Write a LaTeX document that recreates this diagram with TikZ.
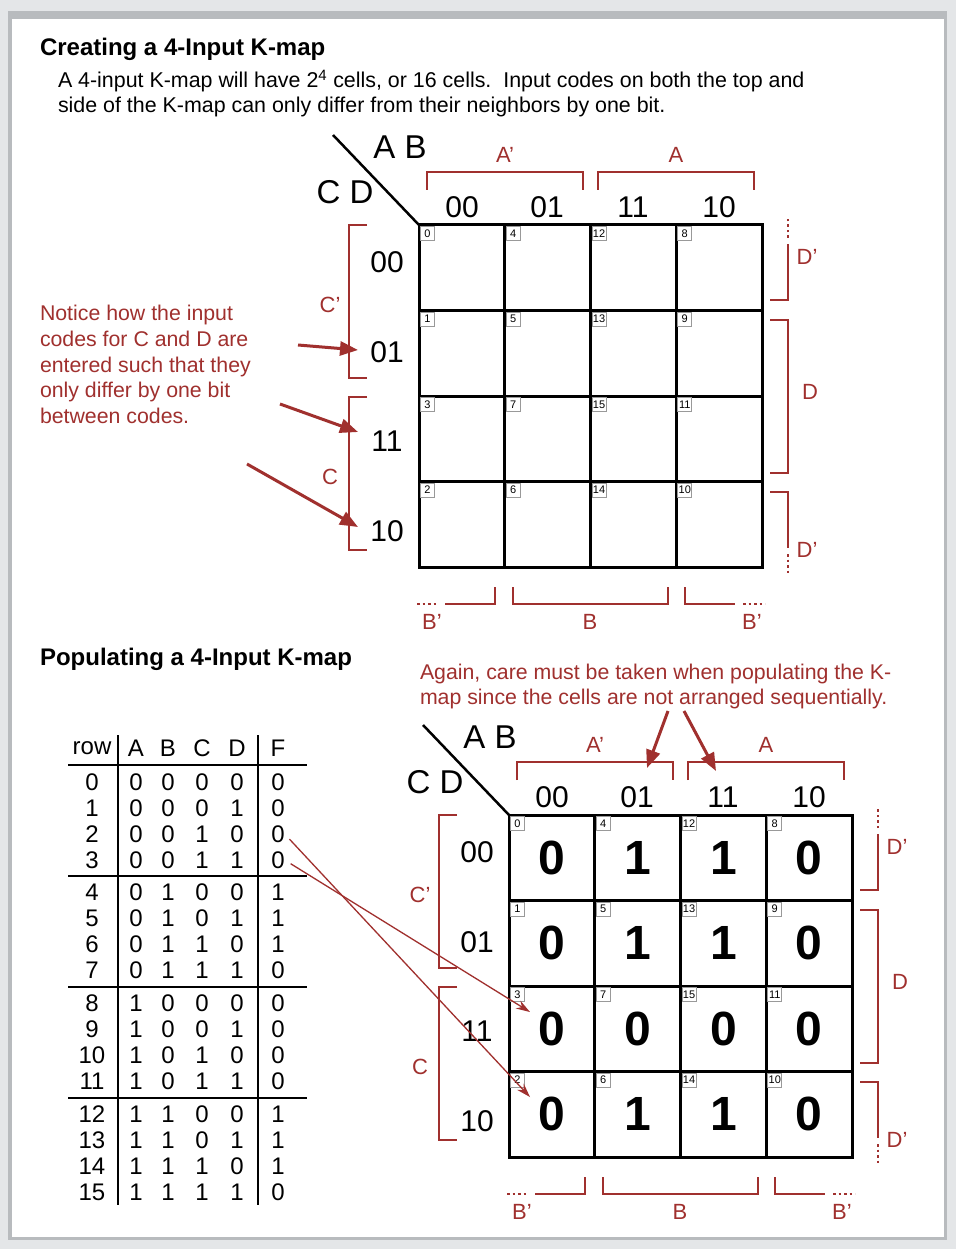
\documentclass[tikz,border=0pt]{standalone}
\usepackage{fontspec}
\setmainfont{Liberation Sans}
\usetikzlibrary{arrows.meta}
\definecolor{kred}{RGB}{160,48,46}
\definecolor{framegrey}{RGB}{228,230,232}
\definecolor{frameline}{RGB}{184,187,190}
\newcommand\fs[1]{\fontsize{#1}{#1}\selectfont}
\newcommand\KMap[1]{%
  \draw[diagline] (333,135) -- (419,225);
  \node[varlbl] (#1AB) at (400,147) {A B};
  \node[varlbl] (#1CD) at (345,192) {C D};
  \foreach \t/\x in {00/462,01/547,11/633,10/719}{\node[code] (#1col\t) at (\x,207) {\t};}
  \foreach \t/\y in {00/262,01/352,11/441,10/531}{\node[code] (#1row\t) at (387,\y) {\t};}
  \foreach \c/\cv in {0/0,1/1,2/3,3/2}{%
    \foreach \r/\rv in {0/0,1/1,2/3,3/2}{%
      \pgfmathtruncatemacro\n{4*\cv+\rv}%
      \pgfmathsetmacro\cx{419+85.75*(\c+0.5)}%
      \pgfmathsetmacro\cy{225+85.5*(\r+0.5)}%
      \node[gridcell] (#1k\n) at (\cx,\cy) {};
      \node[idxbox, xshift=1.5pt, yshift=-1.5pt] (#1i\n) at (#1k\n.north west) {\n};
    }}
  % top brackets
  \draw[bracket] (427,190) -- (427,172) -- (583,172) -- (583,190);
  \draw[bracket] (598,190) -- (598,172) -- (754,172) -- (754,190);
  \node[brlbl] (#1Ap) at (505,155) {A’};
  \node[brlbl] (#1A) at (676,155) {A};
  % right brackets
  \draw[bracket] (770,300) -- (788,300) -- (788,244);
  \draw[dotbr] (788,238) -- (788,219);
  \node[brlbl] (#1Dpa) at (807,257) {D’};
  \draw[bracket] (770,320) -- (788,320) -- (788,473) -- (770,473);
  \node[brlbl] (#1D) at (810,392) {D};
  \draw[bracket] (770,492) -- (788,492) -- (788,548);
  \draw[dotbr] (788,554) -- (788,573);
  \node[brlbl] (#1Dpb) at (807,550) {D’};
  % bottom brackets
  \draw[dotbr] (417,604) -- (438,604);
  \draw[bracket] (445,604) -- (495,604) -- (495,587);
  \node[brlbl] (#1Bpa) at (432,622) {B’};
  \draw[bracket] (513,587) -- (513,604) -- (668,604) -- (668,587);
  \node[brlbl] (#1B) at (590,622) {B};
  \draw[bracket] (685,587) -- (685,604) -- (735,604);
  \draw[dotbr] (743,604) -- (765,604);
  \node[brlbl] (#1Bpb) at (752,622) {B’};
  % left brackets
  \draw[bracket] (367,225) -- (349,225) -- (349,378) -- (367,378);
  \node[brlbl] (#1Cp) at (330,305) {C’};
  \draw[bracket] (367,397) -- (349,397) -- (349,550) -- (367,550);
  \node[brlbl] (#1C) at (330,477) {C};
}
\begin{document}
\begin{tikzpicture}[x=1pt,y=-1pt,
  every node/.style={inner sep=0pt, outer sep=0pt},
  gridcell/.style={draw=black, line width=3pt, minimum width=85.75pt, minimum height=85.5pt},
  idxbox/.style={draw=black!40, line width=0.7pt, minimum width=14pt, minimum height=14pt, font=\fs{11}, anchor=north west},
  code/.style={font=\fs{30}},
  varlbl/.style={font=\fs{33}},
  brlbl/.style={font=\fs{22}, text=kred},
  bracket/.style={draw=kred, line width=2.8pt},
  dotbr/.style={draw=kred, line width=2.8pt, dash pattern=on 2.5pt off 3pt},
  diagline/.style={draw=black, line width=2.5pt},
  bigval/.style={font=\bfseries\fs{48}},
  tt/.style={font=\fs{24}},
  ttline/.style={draw=black, line width=2.5pt},
  note/.style={font=\fs{21.3}, text=kred, anchor=base west},
  notearrow/.style={draw=kred, line width=3pt, -{Triangle[length=18pt,width=14pt]}},
  thinarrow/.style={draw=kred, line width=1.3pt, -{Stealth[length=14pt,width=9pt]}},
  titletext/.style={font=\bfseries\fs{24}, anchor=base west},
  desc/.style={font=\fs{21.4}, anchor=base west},
]
\useasboundingbox (0,0) rectangle (956,1249);
% frame
\fill[framegrey] (0,0) rectangle (956,1249);
\fill[frameline] (8,11) rectangle (947,1240);
\fill[white] (12,19) rectangle (944,1237);

% header texts
\node[titletext] (t1) at (40,55.6) {Creating a 4-Input K-map};
\node[desc] (d1) at (58,87.6) {A 4-input K-map will have 2\textsuperscript{4} cells, or 16 cells.\ \ Input codes on both the top and};
\node[desc] (d2) at (58,112.6) {side of the K-map can only differ from their neighbors by one bit.};

% first K-map
\KMap{A}

% notice text
\foreach \l/\txt [count=\k from 0] in {1/Notice how the input,2/codes for C and D are,3/entered such that they,4/only differ by one bit,5/between codes.}{
  \pgfmathsetmacro\ly{320.7+25.7*\k}
  \node[note] (nt\l) at (40,\ly) {\txt};
}
\coordinate (n1s) at (298,345); \coordinate (n1e) at (358,350);
\coordinate (n2s) at (280,404); \coordinate (n2e) at (358,432);
\coordinate (n3s) at (247,464); \coordinate (n3e) at (358,527);
\draw[notearrow] (n1s) -- (n1e);
\draw[notearrow] (n2s) -- (n2e);
\draw[notearrow] (n3s) -- (n3e);

% second section
\node[titletext] (t2) at (40,665.6) {Populating a 4-Input K-map};
\node[note] (ag1) at (420,679.6) {Again, care must be taken when populating the K-};
\node[note] (ag2) at (420,704.6) {map since the cells are not arranged sequentially.};

\begin{scope}[shift={(90,590)}]
\KMap{B}
\end{scope}
\foreach \n/\v in {0/0,1/0,2/0,3/0,4/1,5/1,6/1,7/0,8/0,9/0,10/0,11/0,12/1,13/1,14/1,15/0}{
  \node[bigval] (v\n) at (Bk\n) {\v};
}

\coordinate (a1s) at (668,711); \coordinate (a1e) at (647,768);
\coordinate (a2s) at (684,711); \coordinate (a2e) at (716,771);
\draw[notearrow] (a1s) -- (a1e);
\draw[notearrow] (a2s) -- (a2e);

% truth table
\foreach \h/\x/\nm in {row/92/hr,A/136/ha,B/168/hb,C/202/hc,D/237/hd,F/278/hf}{
  \node[tt] (\nm) at (\x,748) {\h};
}
\foreach \i/\f in {0/0,1/0,2/0,3/0,4/1,5/1,6/1,7/0,8/0,9/0,10/0,11/0,12/1,13/1,14/1,15/0}{
  \pgfmathsetmacro\ty{782+26*mod(\i,4)+110.7*floor(\i/4)}
  \pgfmathtruncatemacro\ba{floor(\i/8)}
  \pgfmathtruncatemacro\bb{mod(floor(\i/4),2)}
  \pgfmathtruncatemacro\bc{mod(floor(\i/2),2)}
  \pgfmathtruncatemacro\bd{mod(\i,2)}
  \node[tt] (tr\i) at (92,\ty) {\i};
  \node[tt] (ta\i) at (136,\ty) {\ba};
  \node[tt] (tb\i) at (168,\ty) {\bb};
  \node[tt] (tc\i) at (202,\ty) {\bc};
  \node[tt] (td\i) at (237,\ty) {\bd};
  \node[tt] (tf\i) at (278,\ty) {\f};
}
\draw[ttline] (118,735) -- (118,1205);
\draw[ttline] (258,735) -- (258,1205);
\foreach \yy in {765,876,987,1098}{\draw[ttline] (68,\yy) -- (307,\yy);}

% thin arrows from table to map
\coordinate (e3) at (530,1012);
\coordinate (e2) at (530,1097);
\draw[thinarrow, shorten <=7pt] (tf2.east) -- (e2);
\draw[thinarrow, shorten <=7pt] (tf3.east) -- (e3);
\end{tikzpicture}
\end{document}
